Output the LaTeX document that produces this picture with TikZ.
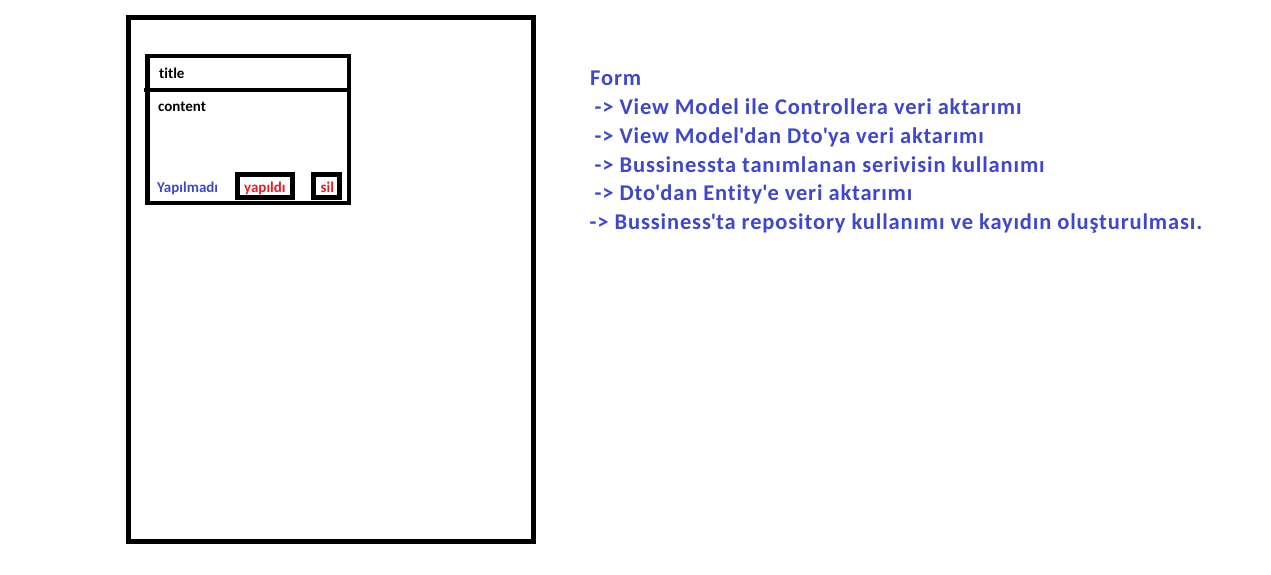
\documentclass[tikz,border=0pt]{standalone}
\usepackage{fontspec}
\setmainfont{Carlito}[BoldFont={* Bold}, Ligatures=NoCommon]
\newfontfamily\bigfont{Carlito Bold}[LetterSpace=3.8, Ligatures=NoCommon]
\definecolor{pblue}{HTML}{3F48CC}
\definecolor{pred}{HTML}{ED1C24}
\tikzset{
  frame/.style={draw=black, line width=5pt},
  card/.style={draw=black, line width=4.5pt},
  btn/.style={draw=black, line width=5pt},
  small/.style={font=\fontsize{15}{17}\selectfont\bfseries, anchor=base west, inner sep=0pt},
  big/.style={font=\bigfont\fontsize{22.5}{26}\selectfont, text=pblue, anchor=base west, inner sep=0pt},
}
\begin{document}
\begin{tikzpicture}[x=1pt,y=-1pt]
\useasboundingbox (0,0) rectangle (1271,575);
\fill[white] (0,0) rectangle (1271,575);
% outer page
\draw[frame] (128,17.5) rectangle (533,541);
% card
\draw[card] (147.5,56) rectangle (349,203);
\draw[card] (144,90) -- (349,90);
% buttons
\draw[btn] (237.5,174) rectangle (292.5,197);
\draw[btn] (313,174) rectangle (339.5,197);
% texts in card
\node[small] (title) at (159,78.2) {title};
\node[small] (content) at (158,112) {content};
\node[small, text=pblue] (yapilmadi) at (157,192) {Yapılmadı};
\node[small, text=pred] (yapildi) at (244,192) {yapıldı};
\node[small, text=pred] (sil) at (320.5,192) {sil};
% right-hand text
\node[big] (l0) at (590,85.5) {Form};
\node[big] (l1) at (594.5,114.2) {-> View Model ile Controllera veri aktarımı};
\node[big] (l2) at (594.5,143) {-> View Model\textquotesingle dan Dto\textquotesingle ya veri aktarımı};
\node[big] (l3) at (594.5,172) {-> Bussinessta tanımlanan serivisin kullanımı};
\node[big] (l4) at (594.5,200.7) {-> Dto\textquotesingle dan Entity\textquotesingle e veri aktarımı};
\node[big] (l5) at (589.5,229.5) {-> Bussiness\textquotesingle ta repository kullanımı ve kayıdın oluşturulması.};
\end{tikzpicture}
\end{document}
